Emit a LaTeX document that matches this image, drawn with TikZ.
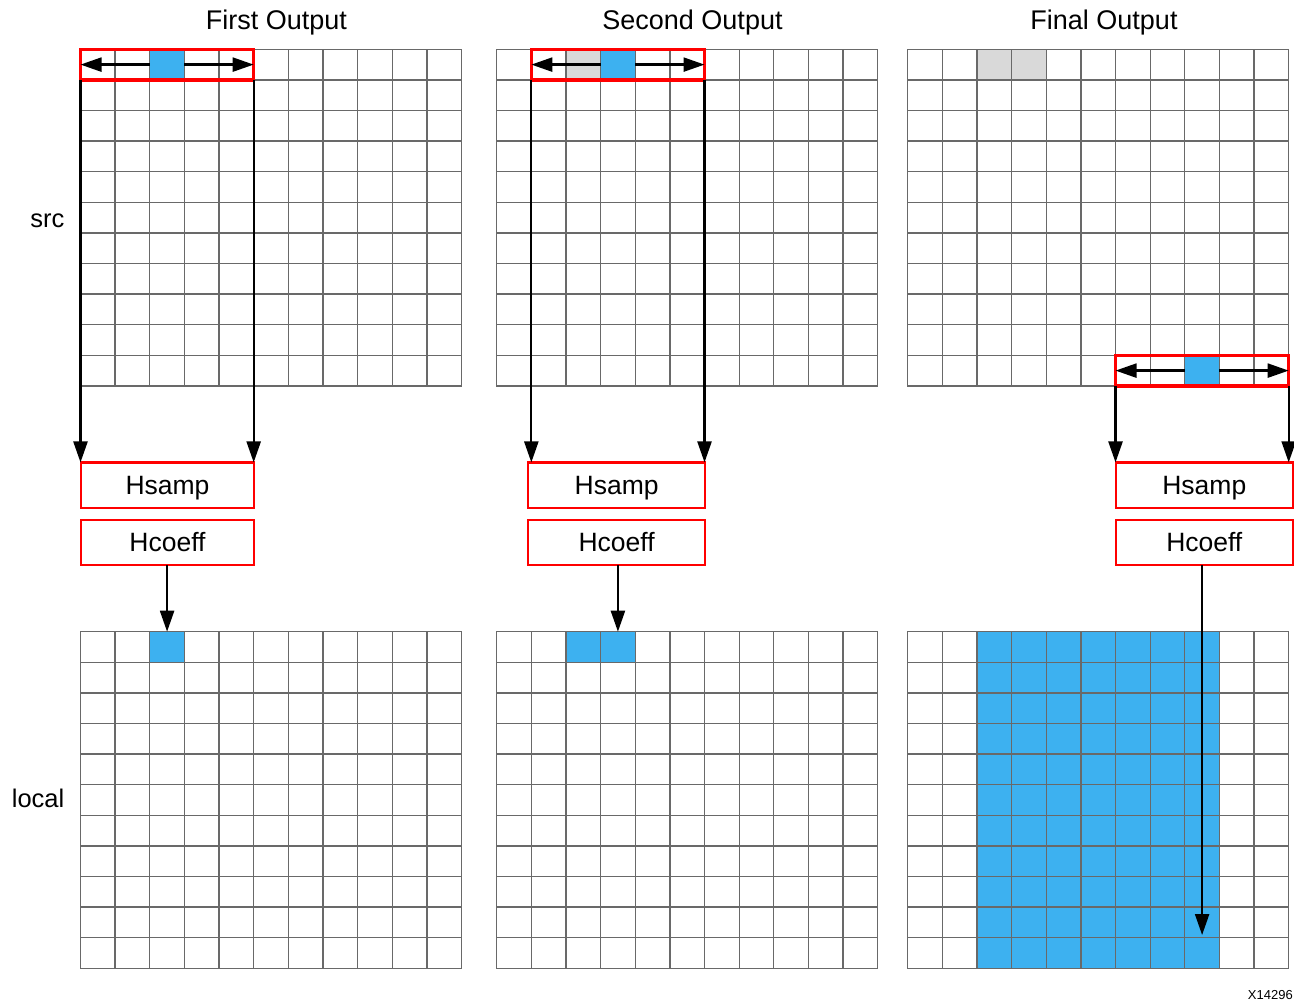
\documentclass[tikz,border=0pt]{standalone}
\usepackage{fontspec}
\setmainfont{Liberation Sans}
\usetikzlibrary{arrows.meta}
\definecolor{cellblue}{RGB}{61,177,240}
\definecolor{cellgrey}{RGB}{217,217,217}
\definecolor{gridgrey}{RGB}{105,105,105}
\definecolor{boxred}{RGB}{255,0,0}
\def\cellw{34.636}
\def\cellh{30.6}
\newcommand{\drawgrid}[2]{%
  \foreach \i in {0,...,11}{%
    \draw[gridline] ({#1+\i*\cellw},#2) -- ({#1+\i*\cellw},{#2+11*\cellh});
    \draw[gridline] (#1,{#2+\i*\cellh}) -- ({#1+11*\cellw},{#2+\i*\cellh});
  }}
\begin{document}
\begin{tikzpicture}[x=1pt,y=-1pt,
  gridline/.style={draw=gridgrey,line width=1.3pt,line cap=rect},
  cellbox/.style={minimum width=34.636pt,minimum height=30.6pt,inner sep=0pt,outer sep=0pt,draw=none},
  bluecell/.style={cellbox,fill=cellblue},
  greycell/.style={cellbox,fill=cellgrey},
  window/.style={draw=boxred,line width=3.2pt,minimum width=173.18pt,minimum height=30.6pt,inner sep=0pt,outer sep=0pt},
  procbox/.style={draw=boxred,line width=2.3pt,minimum height=45.5pt,inner sep=0pt,outer sep=0pt,text height=19pt,text depth=0pt,font=\fontsize{26.5}{31}\selectfont},
  title/.style={anchor=base,font=\fontsize{27}{32}\selectfont,inner sep=0pt},
  sidelabel/.style={anchor=base east,font=\fontsize{25.5}{30}\selectfont,inner sep=0pt},
  arr/.style={-{Triangle[length=21pt,width=14pt]},line width=2.3pt,draw=black}
]
\useasboundingbox (0,0) rectangle (1294,1002);

% titles and labels
\node[title] (t1) at (276.5,29.5) {First Output};
\node[title] (t2) at (692.5,29.5) {Second Output};
\node[title] (t3) at (1104,29.5) {Final Output};
\node[sidelabel] (lsrc) at (64.5,227) {src};
\node[sidelabel] (llocal) at (64.5,807.5) {local};
\node[anchor=base east,font=\fontsize{13}{15}\selectfont,inner sep=0pt] (fig) at (1293,999.3) {X14296};

% coloured cells (top grids)
\node[bluecell] (tb1) at ({80.5+2.5*\cellw},{49.3+0.5*\cellh}) {};
\node[greycell] (tg2) at ({496.7+2.5*\cellw},{49.3+0.5*\cellh}) {};
\node[bluecell] (tb2) at ({496.7+3.5*\cellw},{49.3+0.5*\cellh}) {};
\node[greycell] (tg3a) at ({907.7+2.5*\cellw},{49.3+0.5*\cellh}) {};
\node[greycell] (tg3b) at ({907.7+3.5*\cellw},{49.3+0.5*\cellh}) {};
\node[bluecell] (tb3) at ({907.7+8.5*\cellw},{49.3+10.5*\cellh}) {};

% coloured cells (local grids)
\node[bluecell] (lb1) at ({80.5+2.5*\cellw},{631.7+0.5*\cellh}) {};
\node[bluecell] (lb2a) at ({496.7+2.5*\cellw},{631.7+0.5*\cellh}) {};
\node[bluecell] (lb2b) at ({496.7+3.5*\cellw},{631.7+0.5*\cellh}) {};
\node[cellbox,fill=cellblue,minimum width=242.45pt,minimum height=336.6pt] (lb3) at ({907.7+5.5*\cellw},{631.7+5.5*\cellh}) {};

% grids
\drawgrid{80.5}{49.3}
\drawgrid{496.7}{49.3}
\drawgrid{907.7}{49.3}
\drawgrid{80.5}{631.7}
\drawgrid{496.7}{631.7}
\drawgrid{907.7}{631.7}

% sliding windows
\node[window] (w1) at ({80.5+2.5*\cellw},{49.3+0.5*\cellh}) {};
\node[window] (w2) at ({496.7+3.5*\cellw},{49.3+0.5*\cellh}) {};
\node[window] (w3) at ({907.7+8.5*\cellw},{49.3+10.5*\cellh}) {};

% filter boxes
\node[procbox,minimum width=173pt] (hs1) at (167.5,485.2) {Hsamp};
\node[procbox,minimum width=173pt] (hc1) at (167.5,542.4) {Hcoeff};
\node[procbox,minimum width=176.7pt] (hs2) at (616.6,485.2) {Hsamp};
\node[procbox,minimum width=176.7pt] (hc2) at (616.6,542.4) {Hcoeff};
\node[procbox,minimum width=176.7pt] (hs3) at (1204.3,485.2) {Hsamp};
\node[procbox,minimum width=176.7pt] (hc3) at (1204.3,542.4) {Hcoeff};

% arrows inside windows
\draw[arr] (tb1.west) -- (w1.west);
\draw[arr] (tb1.east) -- (w1.east);
\draw[arr] (tb2.west) -- (w2.west);
\draw[arr] (tb2.east) -- (w2.east);
\draw[arr] (tb3.west) -- (w3.west);
\draw[arr] (tb3.east) -- (w3.east);

% window edges down to Hsamp
\draw[arr] (w1.south west) -- (w1.south west |- hs1.north);
\draw[arr] (w1.south east) -- (w1.south east |- hs1.north);
\draw[arr] (w2.south west) -- (w2.south west |- hs2.north);
\draw[arr] (w2.south east) -- (w2.south east |- hs2.north);
\draw[arr] (w3.south west) -- (w3.south west |- hs3.north);
\draw[arr] (w3.south east) -- (w3.south east |- hs3.north);

% Hcoeff to local
\draw[arr] (lb1.north |- hc1.south) -- (lb1.north);
\draw[arr] (lb2b.north |- hc2.south) -- (lb2b.north);
\coordinate (end3) at ({907.7+8.5*\cellw},935);
\draw[arr] (end3 |- hc3.south) -- (end3);
\end{tikzpicture}
\end{document}
